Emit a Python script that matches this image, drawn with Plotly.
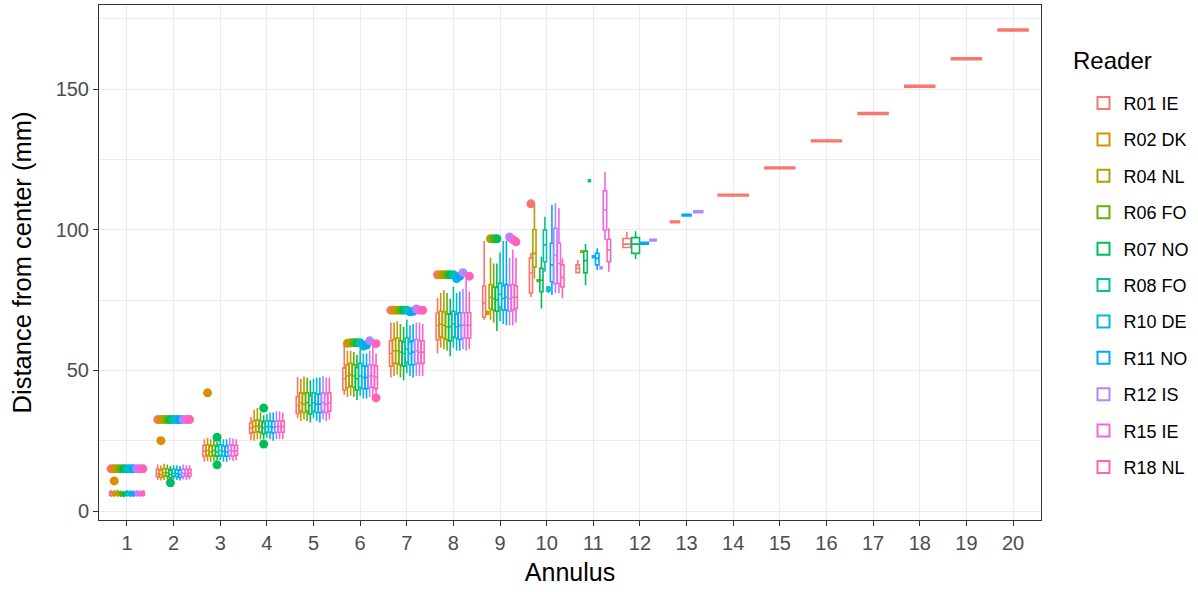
import plotly.graph_objects as go

READERS = ["R01 IE", "R02 DK", "R04 NL", "R06 FO", "R07 NO", "R08 FO",
           "R10 DE", "R11 NO", "R12 IS", "R15 IE", "R18 NL"]
COLORS = ["#F8766D", "#DB8E00", "#AEA200", "#64B200", "#00BD5C", "#00C1A7",
          "#00BADE", "#00A6FF", "#B385FF", "#EF67EB", "#FF63B6"]
ANNULI = list(range(1, 21))

# Box statistics per reader, one value per annulus (list index 0 = annulus 1)
Q1 = {
    "R01 IE": [5.6, 12.2, 19.5, 27.7, 34.7, 43.0, 51.5, 60.8, 69.0, 77.5, 84.7, 93.7, 102.8,
               112.3, 122.0, 131.6, 141.3, 151.0, 160.8, 171.0],
    "R02 DK": [5.5, 12.0, 19.8, 28.0, 35.5, 44.0, 52.5, 62.0, 70.0],
    "R04 NL": [5.7, 12.5, 19.5, 28.2, 35.0, 44.5, 52.5, 61.5, 72.0, 86.8, 92.2],
    "R06 FO": [5.5, 12.4, 19.8, 28.0, 35.5, 44.0, 52.0, 61.0, 71.5, 81.9],
    "R07 NO": [5.4, 11.8, 19.5, 27.5, 34.5, 43.0, 51.5, 60.5, 71.0, 78.0, 84.7, 91.6],
    "R08 FO": [5.6, 12.3, 19.8, 28.0, 35.5, 44.0, 53.0, 62.0, 72.5, 88.6, 117.4],
    "R10 DE": [5.5, 12.2, 19.5, 28.0, 35.0, 43.5, 52.0, 61.5, 71.5, 78.2, 90.4],
    "R11 NO": [5.5, 12.0, 19.5, 27.8, 35.0, 43.5, 52.0, 61.0, 71.5, 81.5, 87.5, 94.9, 105.2],
    "R12 IS": [5.6, 12.4, 19.8, 28.0, 35.5, 44.0, 52.5, 61.5, 71.0, 80.9, 86.5, 96.3, 106.4],
    "R15 IE": [5.5, 12.3, 19.5, 28.0, 35.0, 44.0, 52.5, 61.5, 71.5, 80.9, 99.9],
    "R18 NL": [5.6, 12.4, 19.8, 28.0, 35.5, 43.5, 52.5, 61.5, 72.0, 79.7, 88.6],
}
MEDIAN = {
    "R01 IE": [6.2, 13.2, 21.3, 29.5, 37.5, 47.0, 56.0, 66.0, 74.0, 84.6, 86.3, 94.9, 102.8,
               112.3, 122.0, 131.6, 141.3, 151.0, 160.8, 171.0],
    "R02 DK": [6.1, 13.0, 21.5, 30.0, 38.5, 48.0, 57.0, 66.5, 70.5],
    "R04 NL": [6.3, 13.5, 21.0, 30.2, 38.0, 48.5, 57.0, 66.0, 76.0, 91.6, 92.2],
    "R06 FO": [6.1, 13.6, 21.5, 30.0, 38.5, 48.0, 56.5, 65.5, 75.5, 81.9],
    "R07 NO": [6.0, 13.0, 21.0, 29.5, 37.5, 47.0, 56.0, 65.5, 75.0, 82.1, 89.0, 94.9],
    "R08 FO": [6.2, 13.4, 21.5, 30.0, 38.5, 48.0, 57.5, 66.5, 77.0, 94.6, 117.4],
    "R10 DE": [6.1, 13.2, 21.2, 30.0, 38.0, 47.5, 56.0, 65.5, 75.5, 78.8, 90.4],
    "R11 NO": [6.1, 13.0, 21.0, 29.8, 38.0, 47.5, 56.5, 66.0, 76.0, 87.5, 89.8, 95.2, 105.2],
    "R12 IS": [6.2, 13.4, 21.4, 30.0, 38.5, 48.0, 57.0, 66.0, 75.5, 91.0, 86.5, 96.3, 106.4],
    "R15 IE": [6.1, 13.3, 21.3, 30.0, 38.0, 48.0, 56.5, 66.0, 76.0, 88.0, 107.0],
    "R18 NL": [6.2, 13.4, 21.4, 30.0, 38.5, 47.5, 56.5, 66.0, 76.0, 83.0, 92.8],
}
Q3 = {
    "R01 IE": [6.8, 14.8, 23.3, 31.3, 40.6, 50.8, 60.5, 70.4, 80.0, 89.9, 87.5, 96.9, 102.8,
               112.3, 122.0, 131.6, 141.3, 151.0, 160.8, 171.0],
    "R02 DK": [6.7, 14.5, 23.5, 32.0, 42.0, 52.0, 61.0, 71.0, 71.0],
    "R04 NL": [6.9, 15.0, 23.0, 32.3, 41.5, 52.5, 61.5, 70.8, 80.5, 100.1, 92.2],
    "R06 FO": [6.7, 15.0, 23.4, 32.0, 42.0, 52.0, 60.5, 70.0, 79.5, 81.9],
    "R07 NO": [6.6, 14.5, 23.0, 31.5, 41.0, 51.0, 60.0, 70.0, 79.5, 86.3, 92.4, 97.2],
    "R08 FO": [6.8, 14.8, 23.5, 32.0, 42.0, 52.5, 61.5, 71.0, 81.0, 99.9, 117.4],
    "R10 DE": [6.7, 14.6, 23.0, 32.0, 41.5, 51.5, 60.0, 70.0, 80.0, 79.5, 90.4],
    "R11 NO": [6.7, 14.5, 23.0, 31.8, 41.5, 51.5, 60.5, 70.5, 80.5, 95.2, 91.6, 95.5, 105.2],
    "R12 IS": [6.8, 14.8, 23.5, 32.0, 42.0, 52.0, 61.0, 70.5, 80.0, 100.5, 86.5, 96.3, 106.4],
    "R15 IE": [6.7, 14.7, 23.3, 32.0, 41.5, 52.0, 60.5, 70.5, 80.5, 95.2, 113.8],
    "R18 NL": [6.8, 14.8, 23.4, 32.0, 42.0, 51.5, 60.5, 70.5, 80.0, 87.5, 96.6],
}
LOWER = {
    "R01 IE": [5.0, 11.0, 17.5, 25.2, 33.0, 41.2, 47.5, 56.0, 68.0, 76.1, 84.7, 93.7, 102.8,
               112.3, 122.0, 131.6, 141.3, 151.0, 160.8, 171.0],
    "R02 DK": [5.0, 10.8, 17.8, 25.0, 32.0, 40.5, 48.0, 58.0, 70.0],
    "R04 NL": [5.1, 11.0, 17.5, 25.5, 32.5, 41.0, 48.5, 57.5, 68.0, 82.7, 92.2],
    "R06 FO": [5.0, 11.2, 17.8, 25.5, 32.0, 40.5, 47.5, 57.0, 67.0, 81.9],
    "R07 NO": [4.9, 11.0, 18.0, 25.5, 31.5, 39.5, 46.5, 55.0, 64.0, 72.0, 80.3, 89.6],
    "R08 FO": [5.1, 11.2, 18.0, 26.0, 33.0, 41.0, 49.0, 58.0, 67.5, 85.1, 117.4],
    "R10 DE": [5.0, 11.0, 17.5, 25.5, 32.0, 40.0, 48.0, 57.0, 66.5, 77.5, 90.4],
    "R11 NO": [5.0, 10.8, 17.5, 25.0, 31.5, 40.0, 47.5, 57.0, 66.0, 76.8, 85.7, 94.9, 105.2],
    "R12 IS": [5.1, 11.2, 18.0, 25.5, 32.5, 40.5, 48.0, 57.5, 66.0, 77.4, 86.5, 96.3, 106.4],
    "R15 IE": [5.0, 11.0, 17.8, 25.5, 32.0, 40.5, 48.0, 57.0, 66.0, 77.4, 96.3],
    "R18 NL": [5.1, 11.2, 18.0, 25.5, 32.5, 41.5, 48.0, 57.5, 67.0, 75.6, 85.1],
}
UPPER = {
    "R01 IE": [7.5, 16.5, 25.5, 33.4, 47.7, 59.7, 67.0, 75.7, 96.0, 91.7, 89.2, 99.3, 102.8,
               112.3, 122.0, 131.6, 141.3, 151.0, 160.8, 171.0],
    "R02 DK": [7.4, 16.2, 26.0, 36.0, 47.0, 57.0, 67.0, 77.5, 71.0],
    "R04 NL": [7.6, 16.8, 25.5, 36.6, 47.8, 57.0, 67.5, 78.5, 90.0, 108.5, 92.2],
    "R06 FO": [7.3, 16.5, 26.0, 35.0, 47.5, 56.5, 66.5, 77.5, 88.0, 81.9],
    "R07 NO": [7.2, 16.0, 24.5, 34.0, 46.5, 55.5, 65.5, 75.5, 88.0, 90.4, 94.9, 99.5],
    "R08 FO": [7.5, 16.3, 25.5, 34.5, 47.0, 57.5, 68.0, 79.7, 92.0, 104.6, 117.4],
    "R10 DE": [7.4, 16.3, 25.5, 35.0, 47.5, 56.0, 66.0, 77.5, 96.0, 80.0, 90.4],
    "R11 NO": [7.4, 16.0, 25.5, 35.0, 47.5, 56.0, 66.5, 78.0, 96.0, 108.8, 93.4, 95.5, 105.2],
    "R12 IS": [7.5, 16.5, 26.0, 35.5, 48.0, 57.0, 67.0, 79.0, 90.0, 109.4, 86.5, 96.3, 106.4],
    "R15 IE": [7.4, 16.3, 25.8, 35.5, 47.5, 59.0, 67.0, 83.0, 93.0, 107.6, 120.6],
    "R18 NL": [7.5, 16.3, 25.5, 35.0, 47.5, 56.0, 66.5, 78.0, 90.0, 89.8, 100.5],
}
# Outlying points per reader: {annulus: [values]}
OUTLIERS = {
    "R01 IE": {1: [15.0], 2: [32.5], 7: [71.4], 8: [84.0], 10: [109.2]},
    "R02 DK": {1: [15.0, 10.7], 2: [32.5, 25.0], 3: [42.0], 6: [59.6], 7: [71.4], 8: [84.0]},
    "R04 NL": {1: [15.0], 2: [32.5], 6: [59.8], 7: [71.4], 8: [84.0], 9: [96.8]},
    "R06 FO": {1: [15.0], 2: [32.5], 6: [59.8], 7: [71.4], 8: [84.0], 9: [96.8]},
    "R07 NO": {1: [15.0], 2: [32.5, 10.0], 3: [26.2, 16.4], 4: [36.6, 23.8], 6: [59.8],
               7: [71.4], 8: [84.0], 9: [96.8]},
    "R08 FO": {1: [15.0], 2: [32.5], 6: [59.8], 7: [71.4], 8: [84.0]},
    "R10 DE": {1: [15.0], 2: [32.5], 6: [58.6], 7: [70.8], 8: [82.6]},
    "R11 NO": {1: [15.0], 2: [32.5], 6: [59.0], 7: [71.0], 8: [83.5]},
    "R12 IS": {1: [15.0], 2: [32.5], 6: [60.5], 7: [71.8], 8: [84.7], 9: [97.4]},
    "R15 IE": {1: [15.0], 2: [32.5], 7: [71.4], 9: [96.5]},
    "R18 NL": {1: [15.0], 2: [32.5], 6: [59.5, 40.2], 7: [71.4], 8: [83.5], 9: [95.7]},
}

DODGE = 0.75
PAD = 0.1


def has(r, a):
    v = Q1[r]
    return a - 1 < len(v) and v[a - 1] is not None


present = {a: [r for r in READERS if has(r, a)] for a in ANNULI}

fig = go.Figure()
for r, col in zip(READERS, COLORS):
    groups = {}
    ox, oy = [], []
    for a in ANNULI:
        if not has(r, a):
            continue
        plist = present[a]
        n = len(plist)
        i = plist.index(r)
        slot = DODGE / n
        xc = a - DODGE / 2 + slot * (i + 0.5)
        k = a - 1
        single = LOWER[r][k] == UPPER[r][k]
        g = groups.setdefault((single, n), {"x": [], "q1": [], "med": [], "q3": [], "lo": [], "hi": []})
        g["x"].append(xc)
        g["q1"].append(Q1[r][k])
        g["med"].append(MEDIAN[r][k])
        g["q3"].append(Q3[r][k])
        g["lo"].append(LOWER[r][k])
        g["hi"].append(UPPER[r][k])
        for v in OUTLIERS[r].get(a, []):
            ox.append(xc)
            oy.append(v)
    first = True
    for (single, n) in sorted(groups.keys()):
        g = groups[(single, n)]
        fig.add_trace(go.Box(
            x=g["x"], q1=g["q1"], median=g["med"], q3=g["q3"],
            lowerfence=g["lo"], upperfence=g["hi"],
            width=DODGE / n * (1 - PAD),
            name=r, legendgroup=r, showlegend=first,
            line=dict(color=col, width=3.4 if single else 1.6),
            fillcolor="white", whiskerwidth=0, boxpoints=False,
            hoverinfo="skip",
        ))
        first = False
    if ox:
        fig.add_trace(go.Scatter(
            x=ox, y=oy, mode="markers", legendgroup=r, showlegend=False,
            marker=dict(color=col, size=9, line=dict(width=0)),
            hoverinfo="skip",
        ))

FONT = "Liberation Sans, Arial, sans-serif"
fig.update_layout(
    width=1198, height=592,
    margin=dict(l=99, r=156, t=5, b=72),
    paper_bgcolor="white", plot_bgcolor="white",
    font=dict(family=FONT, color="black"),
    boxmode="overlay",
    showlegend=True,
    legend=dict(
        font=dict(size=18, color="black"),
        x=1.044, xanchor="left", y=0.845, yanchor="top",
        tracegroupgap=10, itemsizing="constant",
        bgcolor="rgba(0,0,0,0)",
    ),
    annotations=[dict(
        text="Reader", x=1.0, xref="paper", xshift=30, xanchor="left",
        y=0.893, yref="paper", yanchor="middle", showarrow=False,
        font=dict(size=24, color="black"),
    )],
    xaxis=dict(
        range=[0.4, 20.6], tickmode="array", tickvals=ANNULI,
        ticktext=[str(a) for a in ANNULI],
        showgrid=True, gridcolor="#EBEBEB", gridwidth=1.3, zeroline=False,
        showline=True, mirror=True, linecolor="#333333", linewidth=1,
        ticks="outside", ticklen=5, tickcolor="#333333",
        tickfont=dict(size=20, color="#4D4D4D"),
        title=dict(text="Annulus", font=dict(size=25, color="black"), standoff=10),
    ),
    yaxis=dict(
        range=[-3.2, 179.9], tickmode="array", tickvals=[0, 50, 100, 150],
        showgrid=True, gridcolor="#EBEBEB", gridwidth=1.3, zeroline=False,
        minor=dict(tickmode="array", tickvals=[25, 75, 125, 175], showgrid=True,
                   gridcolor="#EBEBEB", gridwidth=0.7, ticks=""),
        showline=True, mirror=True, linecolor="#333333", linewidth=1,
        ticks="outside", ticklen=5, tickcolor="#333333",
        tickfont=dict(size=20, color="#4D4D4D"),
        title=dict(text="Distance from center (mm)", font=dict(size=25.5, color="black"), standoff=16),
    ),
)

fig.write_html("out.html")
